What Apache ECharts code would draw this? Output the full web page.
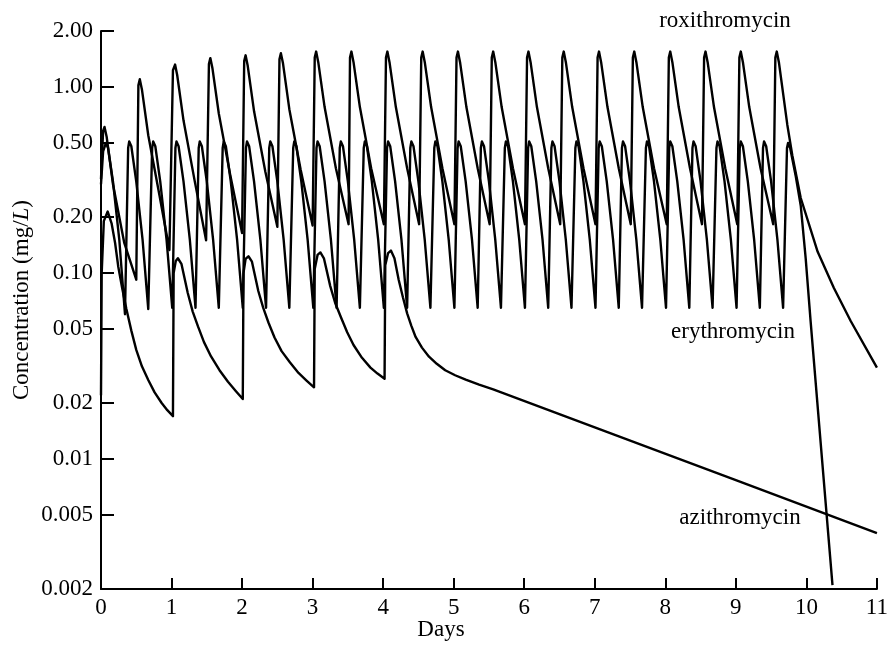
<!DOCTYPE html>
<html>
<head>
<meta charset="utf-8">
<script src="https://cdn.jsdelivr.net/npm/echarts@6/dist/echarts.min.js"></script>
<style>
html,body{margin:0;padding:0;background:#fff;}
#chart{width:891px;height:648px;}
</style>
</head>
<body>
<div id="chart"></div>
<script>
// ---- Data (days, concentration mg/L) ----
var roxithromycin = [
[0.00,0.32],[0.03,0.58],[0.05,0.61],[0.08,0.54],[0.17,0.30],[0.33,0.145],[0.50,0.092],
[0.53,1.02],[0.55,1.10],[0.58,0.97],[0.67,0.55],[0.83,0.26],[0.97,0.133],
[1.02,1.23],[1.05,1.32],[1.08,1.16],[1.17,0.66],[1.33,0.31],[1.49,0.150],
[1.53,1.33],[1.55,1.43],[1.58,1.26],[1.67,0.72],[1.83,0.34],[2.00,0.164],
[2.03,1.38],[2.05,1.48],[2.08,1.30],[2.17,0.74],[2.33,0.35],[2.50,0.177],
[2.53,1.41],[2.55,1.52],[2.58,1.34],[2.67,0.76],[2.83,0.36],[3.00,0.180],
[3.03,1.44],[3.05,1.55],[3.08,1.36],[3.17,0.78],[3.33,0.366],[3.51,0.183],
[3.53,1.44],[3.55,1.55],[3.58,1.36],[3.67,0.78],[3.83,0.366],[4.01,0.183],
[4.04,1.44],[4.06,1.55],[4.09,1.36],[4.18,0.78],[4.34,0.366],[4.51,0.183],
[4.54,1.44],[4.56,1.55],[4.59,1.36],[4.68,0.78],[4.84,0.366],[5.01,0.183],
[5.04,1.44],[5.06,1.55],[5.09,1.36],[5.18,0.78],[5.34,0.366],[5.51,0.183],
[5.54,1.44],[5.56,1.55],[5.59,1.36],[5.68,0.78],[5.84,0.366],[6.01,0.183],
[6.04,1.44],[6.06,1.55],[6.09,1.36],[6.18,0.78],[6.34,0.366],[6.51,0.183],
[6.54,1.44],[6.56,1.55],[6.59,1.36],[6.68,0.78],[6.84,0.366],[7.01,0.183],
[7.04,1.44],[7.06,1.55],[7.09,1.36],[7.18,0.78],[7.34,0.366],[7.51,0.183],
[7.54,1.44],[7.56,1.55],[7.59,1.36],[7.68,0.78],[7.84,0.366],[8.02,0.183],
[8.05,1.44],[8.07,1.55],[8.10,1.36],[8.19,0.78],[8.35,0.366],[8.52,0.183],
[8.55,1.44],[8.57,1.55],[8.60,1.36],[8.69,0.78],[8.85,0.366],[9.02,0.183],
[9.05,1.44],[9.07,1.55],[9.10,1.36],[9.19,0.78],[9.35,0.366],[9.53,0.183],
[9.56,1.44],[9.58,1.55],[9.61,1.36],[9.73,0.625],[9.80,0.43],[9.92,0.253],
[10.16,0.13],[10.39,0.083],[10.63,0.055],[11.00,0.031]
];

var erythromycin = [
[0.00,0.30],[0.03,0.45],[0.07,0.50],[0.10,0.47],[0.17,0.31],[0.26,0.15],[0.34,0.060],
[0.385,0.47],[0.40,0.51],[0.43,0.48],[0.50,0.31],[0.59,0.15],[0.67,0.064],
[0.725,0.47],[0.74,0.51],[0.77,0.48],[0.84,0.31],[0.93,0.15],[1.01,0.065],
[1.055,0.47],[1.07,0.51],[1.10,0.48],[1.17,0.31],[1.26,0.15],[1.34,0.065],
[1.385,0.47],[1.40,0.51],[1.43,0.48],[1.50,0.31],[1.59,0.15],[1.67,0.065],
[1.725,0.47],[1.74,0.51],[1.77,0.48],[1.84,0.31],[1.93,0.15],[2.01,0.065],
[2.055,0.47],[2.07,0.51],[2.10,0.48],[2.17,0.31],[2.26,0.15],[2.34,0.065],
[2.385,0.47],[2.40,0.51],[2.43,0.48],[2.50,0.31],[2.59,0.15],[2.67,0.065],
[2.725,0.47],[2.74,0.51],[2.77,0.48],[2.84,0.31],[2.93,0.15],[3.01,0.065],
[3.055,0.47],[3.07,0.51],[3.10,0.48],[3.17,0.31],[3.26,0.15],[3.34,0.065],
[3.385,0.47],[3.40,0.51],[3.43,0.48],[3.50,0.31],[3.59,0.15],[3.67,0.065],
[3.725,0.47],[3.74,0.51],[3.77,0.48],[3.84,0.31],[3.93,0.15],[4.01,0.065],
[4.055,0.47],[4.07,0.51],[4.10,0.48],[4.17,0.31],[4.26,0.15],[4.34,0.065],
[4.385,0.47],[4.40,0.51],[4.43,0.48],[4.50,0.31],[4.59,0.15],[4.67,0.065],
[4.725,0.47],[4.74,0.51],[4.77,0.48],[4.84,0.31],[4.93,0.15],[5.01,0.065],
[5.055,0.47],[5.07,0.51],[5.10,0.48],[5.17,0.31],[5.26,0.15],[5.34,0.065],
[5.385,0.47],[5.40,0.51],[5.43,0.48],[5.50,0.31],[5.59,0.15],[5.67,0.065],
[5.725,0.47],[5.74,0.51],[5.77,0.48],[5.84,0.31],[5.93,0.15],[6.01,0.065],
[6.055,0.47],[6.07,0.51],[6.10,0.48],[6.17,0.31],[6.26,0.15],[6.34,0.065],
[6.385,0.47],[6.40,0.51],[6.43,0.48],[6.50,0.31],[6.59,0.15],[6.67,0.065],
[6.725,0.47],[6.74,0.51],[6.77,0.48],[6.84,0.31],[6.93,0.15],[7.01,0.065],
[7.055,0.47],[7.07,0.51],[7.10,0.48],[7.17,0.31],[7.26,0.15],[7.34,0.065],
[7.385,0.47],[7.40,0.51],[7.43,0.48],[7.50,0.31],[7.59,0.15],[7.67,0.065],
[7.725,0.47],[7.74,0.51],[7.77,0.48],[7.84,0.31],[7.93,0.15],[8.01,0.065],
[8.055,0.47],[8.07,0.51],[8.10,0.48],[8.17,0.31],[8.26,0.15],[8.34,0.065],
[8.385,0.47],[8.40,0.51],[8.43,0.48],[8.50,0.31],[8.59,0.15],[8.67,0.065],
[8.725,0.47],[8.74,0.51],[8.77,0.48],[8.84,0.31],[8.93,0.15],[9.01,0.065],
[9.055,0.47],[9.07,0.51],[9.10,0.48],[9.17,0.31],[9.26,0.15],[9.34,0.065],
[9.385,0.47],[9.40,0.51],[9.43,0.48],[9.50,0.31],[9.59,0.15],[9.67,0.065],
[9.725,0.47],[9.74,0.50],[9.77,0.47],[9.85,0.33],[9.92,0.23],[9.99,0.12],
[10.06,0.055],[10.20,0.0125],[10.37,0.0021]
];

var azithromycin = [
[0.00,0.022],[0.01,0.10],[0.04,0.19],[0.095,0.214],[0.15,0.185],[0.20,0.145],[0.245,0.108],[0.30,0.083],[0.36,0.064],
[0.43,0.049],[0.50,0.0386],[0.58,0.0315],[0.67,0.0266],[0.76,0.0228],[0.86,0.020],[0.94,0.0183],[1.02,0.017],
[1.03,0.10],[1.06,0.116],[1.09,0.120],[1.14,0.112],[1.23,0.078],[1.30,0.062],[1.375,0.0516],[1.46,0.0425],[1.56,0.0356],[1.68,0.030],[1.80,0.026],[1.91,0.0232],[2.01,0.021],
[2.02,0.10],[2.05,0.119],[2.09,0.123],[2.14,0.115],[2.23,0.080],[2.30,0.065],[2.375,0.054],[2.46,0.045],[2.56,0.038],[2.68,0.033],[2.80,0.029],[2.91,0.0265],[3.02,0.0243],
[3.03,0.105],[3.07,0.125],[3.11,0.129],[3.16,0.120],[3.25,0.085],[3.32,0.069],[3.40,0.058],[3.49,0.048],[3.58,0.041],[3.70,0.035],[3.82,0.031],[3.92,0.0288],[4.02,0.027],
[4.03,0.11],[4.07,0.128],[4.11,0.132],[4.16,0.120],[4.22,0.092],[4.28,0.074],[4.34,0.0607],[4.40,0.052],[4.46,0.0453],[4.55,0.0397],[4.65,0.0355],
[4.76,0.0325],[4.88,0.030],[5.02,0.0282],[5.17,0.0267],[5.36,0.0251],[5.56,0.0237],[7.00,0.0148],[9.00,0.0077],[11.00,0.0040]
];

var yTickValues = [0.002, 0.005, 0.01, 0.02, 0.05, 0.1, 0.2, 0.5, 1, 2];
var yTickLabels = ['0.002', '0.005', '0.01', '0.02', '0.05', '0.10', '0.20', '0.50', '1.00', '2.00'];

var seriesNames = ['roxithromycin', 'erythromycin', 'azithromycin'];
var axisTitles = { x: 'Days', y: 'Concentration (mg/L)' };

// ---- Chart ----
var FONT = '"Liberation Serif", "Times New Roman", serif';
var FS = 23;
var LW = 2.4;
var chart = echarts.init(document.getElementById('chart'), null, {renderer: 'canvas'});

function yLabel(v) {
  var best = 0, bd = Infinity;
  for (var i = 0; i < yTickValues.length; i++) {
    var d = Math.abs(Math.log(v) - Math.log(yTickValues[i]));
    if (d < bd) { bd = d; best = i; }
  }
  return yTickLabels[best];
}

function lineSeries(name, data) {
  return {
    name: name, type: 'line', data: data, showSymbol: false, smooth: false,
    lineStyle: {color: '#000', width: LW, join: 'round'}, itemStyle: {color: '#000'},
    animation: false, clip: true
  };
}

var option = {
  animation: false,
  backgroundColor: '#fff',
  grid: {left: 101, right: 11, top: 31, bottom: 59, containLabel: false},
  xAxis: {
    type: 'value', min: 0, max: 11, interval: 1,
    axisLine: {show: true, lineStyle: {color: '#000', width: 2}},
    axisTick: {show: true, inside: true, length: 11, lineStyle: {color: '#000', width: 2}},
    axisLabel: {color: '#000', fontFamily: FONT, fontSize: FS, margin: 7,
      formatter: function (v) { return String(v); }},
    splitLine: {show: false}
  },
  yAxis: {
    type: 'log', logBase: 10, min: 0.002, max: 2,
    axisLine: {show: true, onZero: false, lineStyle: {color: '#000', width: 2}},
    axisTick: {show: true, inside: true, length: 13, customValues: yTickValues,
      lineStyle: {color: '#000', width: 2}},
    axisLabel: {color: '#000', fontFamily: FONT, fontSize: FS, margin: 8,
      customValues: yTickValues, formatter: yLabel},
    minorTick: {show: false},
    splitLine: {show: false}
  },
  series: [
    lineSeries(seriesNames[0], roxithromycin),
    lineSeries(seriesNames[1], erythromycin),
    lineSeries(seriesNames[2], azithromycin)
  ],
  graphic: [
    {type: 'text', x: 725, y: 21, style: {text: seriesNames[0], font: FS + 'px ' + FONT, fill: '#000', align: 'center', verticalAlign: 'middle'}},
    {type: 'text', x: 733, y: 332, style: {text: seriesNames[1], font: FS + 'px ' + FONT, fill: '#000', align: 'center', verticalAlign: 'middle'}},
    {type: 'text', x: 740, y: 518, style: {text: seriesNames[2], font: FS + 'px ' + FONT, fill: '#000', align: 'center', verticalAlign: 'middle'}},
    {type: 'text', x: 441, y: 630, style: {text: axisTitles.x, font: FS + 'px ' + FONT, fill: '#000', align: 'center', verticalAlign: 'middle'}},
    {type: 'text', x: 22, y: 300, rotation: Math.PI / 2,
      style: {text: '{n|Concentration (mg/}{i|L}{n|)}', fill: '#000', align: 'center', verticalAlign: 'middle',
        rich: {n: {fontFamily: FONT, fontSize: FS, fill: '#000'}, i: {fontFamily: FONT, fontSize: FS, fontStyle: 'italic', fill: '#000'}}}}
  ]
};
chart.setOption(option);
</script>
</body>
</html>
